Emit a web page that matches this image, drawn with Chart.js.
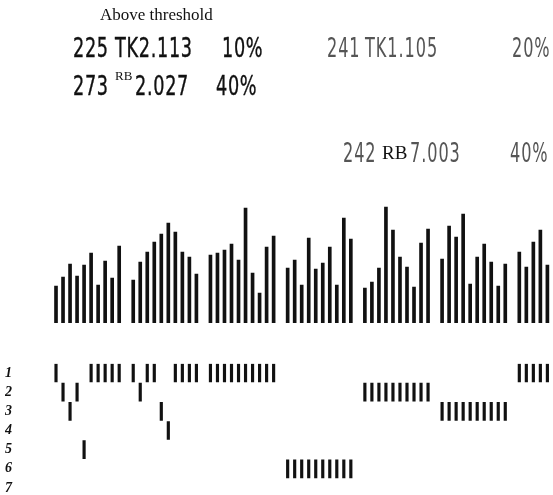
<!DOCTYPE html>
<html>
<head>
<meta charset="utf-8">
<script src="https://cdn.jsdelivr.net/npm/chart.js@4.4.1/dist/chart.umd.min.js"></script>
<style>
  html, body { margin:0; padding:0; background:#fff; }
  #wrap { position:relative; width:553px; height:495px; overflow:hidden; background:#fff; }
  canvas { position:absolute; left:0; top:0; }
  .t { position:absolute; white-space:nowrap; line-height:1; color:#111; }
  .serif { font-family:"Liberation Serif","DejaVu Serif",serif; }
  .narrow { font-family:"DejaVu Sans",sans-serif; font-size:26px; letter-spacing:1px;
            transform:scaleX(0.68); transform-origin:0 0; -webkit-text-stroke:0.4px #111; }
  .dot { color:#555; transform:scaleX(0.62); letter-spacing:1.5px; -webkit-text-stroke:0; }
</style>
</head>
<body>
<div id="wrap">
  <canvas id="hist" width="553" height="495"></canvas>
  <canvas id="raster" width="553" height="495"></canvas>

  <div class="t serif" style="left:100px;top:6px;font-size:17px;">Above threshold</div>

  <div class="t narrow" style="left:73px;top:35px;">225</div>
  <div class="t narrow" style="left:115px;top:35px;">TK2.113</div>
  <div class="t narrow" style="left:222px;top:35px;">10%</div>
  <div class="t narrow dot" style="left:327px;top:35px;">241</div>
  <div class="t narrow dot" style="left:365px;top:35px;">TK1.105</div>
  <div class="t narrow dot" style="left:512px;top:35px;">20%</div>

  <div class="t narrow" style="left:73px;top:73px;">273</div>
  <div class="t serif" style="left:115px;top:69px;font-size:13px;">RB</div>
  <div class="t narrow" style="left:135px;top:73px;">2.027</div>
  <div class="t narrow" style="left:216px;top:73px;">40%</div>

  <div class="t narrow dot" style="left:343px;top:140px;">242</div>
  <div class="t serif" style="left:382px;top:143px;font-size:19px;">RB</div>
  <div class="t narrow dot" style="left:410px;top:140px;">7.003</div>
  <div class="t narrow dot" style="left:510px;top:140px;">40%</div>
</div>

<script>
// Histogram bar heights per group (arbitrary units)
const group1Heights = [37, 46, 59, 47, 58, 70, 38, 62, 45, 77];
const group2Heights = [43, 61, 71, 81, 89, 100, 91, 71, 66, 49];
const group3Heights = [68, 70, 73, 79, 63, 115, 50, 30, 76, 87];
const group4Heights = [55, 63, 38, 85, 54, 60, 76, 38, 105, 84];
const group5Heights = [35, 41, 55, 116, 93, 66, 56, 36, 80, 94];
const group6Heights = [64, 97, 86, 109, 39, 66, 79, 61, 37, 59];
const group7Heights = [71, 56, 81, 93, 58];

// Raster row (1..7) of each bar
const group1Rows = [1, 2, 3, 2, 5, 1, 1, 1, 1, 1];
const group2Rows = [1, 2, 1, 1, 3, 4, 1, 1, 1, 1];
const group3Rows = [1, 1, 1, 1, 1, 1, 1, 1, 1, 1];
const group4Rows = [6, 6, 6, 6, 6, 6, 6, 6, 6, 6];
const group5Rows = [2, 2, 2, 2, 2, 2, 2, 2, 2, 2];
const group6Rows = [3, 3, 3, 3, 3, 3, 3, 3, 3, 3];
const group7Rows = [1, 1, 1, 1, 1];

const rowLabels = [1, 2, 3, 4, 5, 6, 7];

const heightGroups = [group1Heights, group2Heights, group3Heights, group4Heights, group5Heights, group6Heights, group7Heights];
const rowGroups = [group1Rows, group2Rows, group3Rows, group4Rows, group5Rows, group6Rows, group7Rows];

// build slot arrays: one empty slot between groups
const heights = [], rows = [];
heightGroups.forEach((g, gi) => {
  g.forEach((v, i) => { heights.push(v); rows.push(rowGroups[gi][i]); });
  if (gi < heightGroups.length - 1) { heights.push(null); rows.push(null); }
});
const labels = heights.map((_, i) => String(i));
const rasterData = rows.map(r => r === null ? null : [r - 0.47, r + 0.47]);

const common = {
  responsive: false,
  animation: false,
  events: [],
  plugins: { legend: { display: false }, tooltip: { enabled: false } }
};

new Chart(document.getElementById('hist'), {
  type: 'bar',
  data: { labels, datasets: [{ data: heights, backgroundColor: '#111', borderWidth: 0, barThickness: 3 }] },
  options: Object.assign({}, common, {
    layout: { padding: { left: 52.5, right: 2.1, top: 198, bottom: 172 } },
    scales: {
      x: { display: false },
      y: { display: false, min: 0, max: 125 }
    }
  })
});

new Chart(document.getElementById('raster'), {
  type: 'bar',
  data: { labels, datasets: [{ data: rasterData, backgroundColor: '#111', borderWidth: 0, barThickness: 2.5 }] },
  options: Object.assign({}, common, {
    layout: { padding: { left: 5, right: 2.1, top: 363.4, bottom: 7 } },
    scales: {
      x: { display: false },
      y: {
        reverse: true, min: 0.5, max: 7.0,
        grid: { display: false, drawTicks: false },
        border: { display: false },
        afterFit: (s) => { s.width = 47.5; },
        afterBuildTicks: (s) => { s.ticks = rowLabels.map(v => ({ value: v })); },
        ticks: {
          padding: 0,
          crossAlign: 'far',
          color: '#111',
          font: { family: '"Liberation Serif", serif', size: 14, style: 'italic', weight: 'bold', lineHeight: 1 },
          callback: (v) => String(v)
        }
      }
    }
  })
});
</script>
</body>
</html>
